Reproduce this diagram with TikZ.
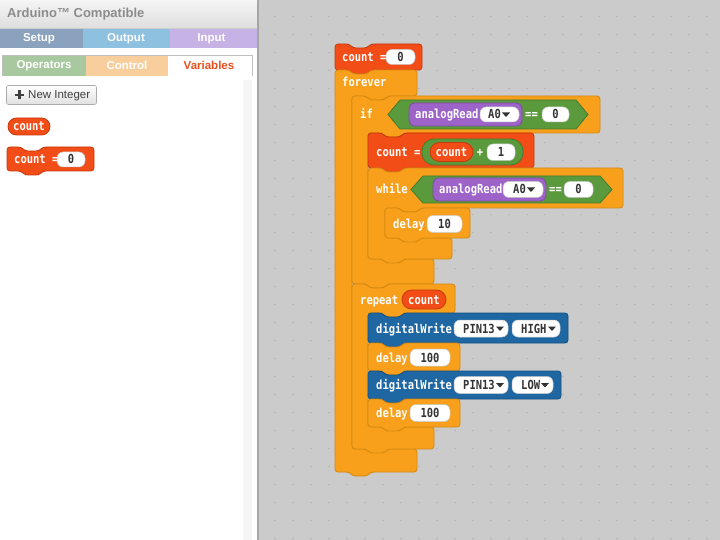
\documentclass[tikz,border=0pt]{standalone}
\usepackage{fontspec}
\setmainfont{Liberation Sans}
\newfontfamily\blkmono[FakeStretch=0.84]{DejaVu Sans Mono}
\definecolor{ws}{HTML}{CBCBCB}
\definecolor{wsdot}{HTML}{B3B3B3}
\definecolor{divcol}{HTML}{A6A6A6}
\definecolor{orf}{HTML}{F8A01C}
\definecolor{ord}{HTML}{D5870F}
\definecolor{rdf}{HTML}{F24C17}
\definecolor{rdd}{HTML}{C63A0E}
\definecolor{grf}{HTML}{5B9A3C}
\definecolor{grd}{HTML}{467A2D}
\definecolor{puf}{HTML}{9E63C8}
\definecolor{pud}{HTML}{7E4AA5}
\definecolor{blf}{HTML}{1F67A3}
\definecolor{bld}{HTML}{15507F}
\definecolor{fldtxt}{HTML}{333333}
\definecolor{tabsetup}{HTML}{8AA2BD}
\definecolor{taboutput}{HTML}{8EC0E0}
\definecolor{tabinput}{HTML}{C7B2E6}
\definecolor{tabops}{HTML}{A8C9A0}
\definecolor{tabctrl}{HTML}{F8CF9C}
\definecolor{varred}{HTML}{E8501E}
\definecolor{titlegray}{HTML}{8C8C8C}
\newcommand\stk[5]{\draw[#1,rounded corners=3] (#2,#3) -- ({#2+14},#3) -- ({#2+18},{#3+4}) -- ({#2+32},{#3+4}) -- ({#2+36},#3) -- (#4,#3) -- (#4,#5) -- ({#2+36},#5) -- ({#2+32},{#5+4}) -- ({#2+18},{#5+4}) -- ({#2+14},#5) -- (#2,#5) -- cycle;}
\newcommand\cblk[9]{\draw[#1,rounded corners=3] (#2,#3) -- ({#2+14},#3) -- ({#2+18},{#3+4}) -- ({#2+32},{#3+4}) -- ({#2+36},#3) -- (#4,#3) -- (#4,#5) -- ({#6+36},#5) -- ({#6+32},{#5+4}) -- ({#6+18},{#5+4}) -- ({#6+14},#5) -- (#6,#5) -- (#6,#7) -- (#8,#7) -- (#8,#9) -- ({#2+36},#9) -- ({#2+32},{#9+4}) -- ({#2+18},{#9+4}) -- ({#2+14},#9) -- (#2,#9) -- cycle;}
\newcommand\hexa[5]{\draw[#1] (#2,{(#3+#5)/2}) -- ({#2+12},#3) -- ({#4-12},#3) -- (#4,{(#3+#5)/2}) -- ({#4-12},#5) -- ({#2+12},#5) -- cycle;}
\newcommand\ddtri[2]{\fill[fldtxt] (#1,{#2-2}) -- ({#1+8},{#2-2}) -- ({#1+4},{#2+2.5}) -- cycle;}
\newcommand\fld[6]{\draw[fldbox] (#2,#3) rectangle (#4,#5); \node[fldlbl] (#1) at ({(#2+#4)/2},{(#3+#5)/2}) {#6};}
\newcommand\ddf[8]{\draw[fldbox] (#2,#3) rectangle (#4,#5); \node[fldlbl,anchor=west] (#1) at (#6,{(#3+#5)/2}) {#7}; \ddtri{#8}{(#3+#5)/2}}
\begin{document}
\begin{tikzpicture}[x=1pt,y=-1pt,
  orblk/.style={fill=orf,draw=ord,line width=0.8pt},
  rdblk/.style={fill=rdf,draw=rdd,line width=0.8pt},
  blblk/.style={fill=blf,draw=bld,line width=0.8pt},
  grblk/.style={fill=grf,draw=grd,line width=0.8pt},
  publk/.style={fill=puf,draw=pud,line width=0.8pt,rounded corners=6},
  fldbox/.style={fill=white,draw=black!22,line width=0.5pt,rounded corners=6},
  lbl/.style={font=\blkmono\bfseries\fontsize{12.5}{14}\selectfont,text=white,inner sep=0pt,anchor=west,text height=9pt,text depth=0pt},
  clbl/.style={lbl,anchor=center},
  fldlbl/.style={font=\blkmono\bfseries\fontsize{12.5}{14}\selectfont,text=fldtxt,inner sep=0pt,anchor=center,text height=9pt,text depth=0pt},
  tablbl/.style={font=\bfseries\fontsize{11.5}{13}\selectfont,text=white,inner sep=0pt,anchor=center},
]
\useasboundingbox (0,0) rectangle (720,540);
% workspace
\fill[ws] (258,0) rectangle (720,540);
\foreach \i in {0,...,24} {\foreach \j in {0,...,29} {\fill[wsdot] ({275+18*\i},{16.5+18*\j}) circle (0.9);}}
\fill[divcol] (256.5,0) rectangle (259,540);
% left panel
\fill[white] (0,0) rectangle (256.5,540);
\shade[top color=black!4,bottom color=black!13] (0,0) rectangle (256.5,28.5);
\draw[black!20,line width=0.5pt] (0,28.5) -- (256.5,28.5);
\node[font=\bfseries\fontsize{13}{15}\selectfont,text=titlegray,inner sep=0pt,anchor=west] (title) at (7,14.5) {Arduino™ Compatible};
\fill[tabsetup] (0,29) rectangle (83,48.5);
\fill[taboutput] (83,29) rectangle (169.5,48.5);
\fill[tabinput] (169.5,29) rectangle (256.5,48.5);
\node[tablbl] (tsetup) at (39,38.8) {Setup};
\node[tablbl] (toutput) at (126,38.8) {Output};
\node[tablbl] (tinput) at (211.5,38.8) {Input};
\fill[tabops] (3,56) rectangle (86,76);
\fill[tabctrl] (86,56) rectangle (168,76);
\draw[black!25,line width=0.6pt] (2.5,76) -- (2.5,55.5) -- (252.5,55.5) -- (252.5,76);
\node[tablbl] (tops) at (44,65.8) {Operators};
\node[tablbl] (tctrl) at (127,65.8) {Control};
\node[tablbl,text=varred] (tvars) at (209,65.8) {Variables};
\fill[black!4] (243,80) rectangle (252,540);
\shade[top color=white,bottom color=black!12,draw=black!33,rounded corners=2,line width=0.6pt] (6.5,85.5) rectangle (96.5,104.5);
\draw[black!75,line width=2.3pt] (15,94.8) -- (24,94.8) (19.5,90.3) -- (19.5,99.3);
\node[font=\fontsize{11.5}{13}\selectfont,text=black!75,inner sep=0pt,anchor=west] (newint) at (28,95.3) {New Integer};
% palette blocks
\draw[rdblk,rounded corners=8.5] (8,118) rectangle (50,135);
\node[clbl] (pcount) at (29,126.5) {count};
\stk{rdblk}{7}{147}{94}{171}
\node[lbl] (pset) at (14,159.5) {count =};
\fld{pzero}{57}{152}{85}{167}{0}
% workspace stack
\stk{rdblk}{335}{44}{422}{70}
\node[lbl] (setlbl) at (342,57) {count =};
\fld{setzero}{386}{49.5}{415}{64.5}{0}
\cblk{orblk}{335}{70}{417}{96}{352}{449}{417}{472}
\node[lbl] (foreverlbl) at (342,82.5) {forever};
\cblk{orblk}{352}{96}{600}{133}{368}{259}{434}{284}
\node[lbl] (iflbl) at (360,114.5) {if};
\hexa{grblk}{388}{100}{588}{129}
\draw[publk] (409,103) rectangle (522,126);
\node[lbl] (ifread) at (415,114.5) {analogRead};
\ddf{ifpin}{480}{107}{519}{122}{488}{A0}{502}
\node[lbl] (ifeq) at (525,114.5) {==};
\fld{ifzero}{542}{107}{569}{122}{0}
\stk{rdblk}{368}{133}{534}{168}
\node[lbl] (inclbl) at (376,152) {count =};
\draw[grblk,rounded corners=12] (422,139) rectangle (523,165);
\draw[rdblk,rounded corners=9.5] (430,142.5) rectangle (473,161.5);
\node[clbl] (inccount) at (451.5,152) {count};
\node[clbl] (incplus) at (480,152) {+};
\fld{incone}{487}{144}{515}{160.5}{1}
\cblk{orblk}{368}{168}{623}{208}{385}{238}{452}{259}
\node[lbl] (whilelbl) at (376,189.5) {while};
\hexa{grblk}{411}{176}{612}{203}
\draw[publk] (433,178) rectangle (546,201);
\node[lbl] (whread) at (439,189.5) {analogRead};
\ddf{whpin}{503}{181.5}{543}{197.5}{513}{A0}{527}
\node[lbl] (wheq) at (549,189.5) {==};
\fld{whzero}{564}{181.5}{593}{197.5}{0}
\stk{orblk}{385}{208}{470}{238}
\node[lbl] (d1lbl) at (393,224) {delay};
\fld{d1val}{427}{215.5}{462}{232.5}{10}
\cblk{orblk}{352}{284}{455}{313}{368}{427}{434}{449}
\node[lbl] (replbl) at (360,299.5) {repeat};
\draw[rdblk,rounded corners=9.5] (402,290) rectangle (446,309);
\node[clbl] (repcount) at (424,299.5) {count};
\stk{blblk}{368}{313}{568}{343}
\node[lbl] (dw1lbl) at (376,328.5) {digitalWrite};
\ddf{dw1pin}{454}{320}{508}{337}{463}{PIN13}{496}
\ddf{dw1val}{512}{320}{560}{337}{521}{HIGH}{548}
\stk{orblk}{368}{343}{460}{371}
\node[lbl] (d2lbl) at (376,357.5) {delay};
\fld{d2val}{410}{349}{450}{366}{100}
\stk{blblk}{368}{371}{561}{399}
\node[lbl] (dw2lbl) at (376,385) {digitalWrite};
\ddf{dw2pin}{454}{376.5}{508}{393.5}{463}{PIN13}{496}
\ddf{dw2val}{512}{376.5}{553}{393.5}{521}{LOW}{541}
\stk{orblk}{368}{399}{460}{427}
\node[lbl] (d3lbl) at (376,413) {delay};
\fld{d3val}{410}{404.5}{450}{421.5}{100}
\end{tikzpicture}
\end{document}
